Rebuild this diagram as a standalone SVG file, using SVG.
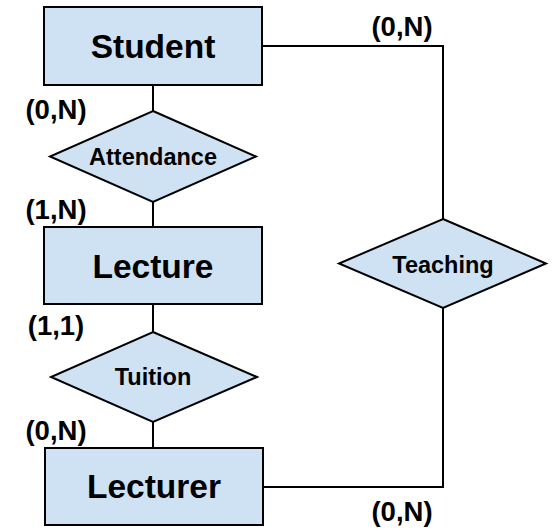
<svg xmlns="http://www.w3.org/2000/svg" width="555" height="532" viewBox="0 0 555 532">
<style>
.ent{fill:#cfe2f3;stroke:#000;stroke-width:2}
.rel{fill:#cfe2f3;stroke:#000;stroke-width:2}
.conn{fill:none;stroke:#000;stroke-width:2}
.t1{font-family:"Liberation Sans",Arial,sans-serif;font-weight:bold;font-size:33.5px;text-anchor:middle;fill:#000}
.t2{font-family:"Liberation Sans",Arial,sans-serif;font-weight:bold;font-size:23.5px;text-anchor:middle;fill:#000}
.card{font-family:"Liberation Sans",Arial,sans-serif;font-weight:bold;font-size:27.5px;text-anchor:middle;fill:#000}
</style>
<rect width="555" height="532" fill="#fff"/>
<g id="connectors">
<line class="conn" x1="153" y1="85" x2="153" y2="111"/>
<line class="conn" x1="153" y1="202" x2="153" y2="227"/>
<line class="conn" x1="153" y1="304" x2="153" y2="332"/>
<line class="conn" x1="153" y1="422" x2="153" y2="448"/>
<polyline class="conn" points="262,46 443,46 443,219"/>
<polyline class="conn" points="443,308 443,487 263,487"/>
</g>
<g id="student"><rect class="ent" x="44" y="7" width="218" height="78"/><text class="t1" x="153" y="58">Student</text></g>
<g id="attendance"><polygon class="rel" points="153,111 256,156.5 153,202 50,156.5"/><text class="t2" x="153" y="165">Attendance</text></g>
<g id="lecture"><rect class="ent" x="44" y="227" width="218" height="77"/><text class="t1" x="153" y="278">Lecture</text></g>
<g id="tuition"><polygon class="rel" points="153,332 257,377 153,422 51,377"/><text class="t2" x="153" y="385">Tuition</text></g>
<g id="lecturer"><rect class="ent" x="45" y="448" width="218" height="77"/><text class="t1" x="154" y="498">Lecturer</text></g>
<g id="teaching"><polygon class="rel" points="443,219 546,263.5 443,308 339,263.5"/><text class="t2" x="443" y="273">Teaching</text></g>
<g id="cardinalities">
<text class="card" x="56" y="119">(0,N)</text>
<text class="card" x="56" y="219">(1,N)</text>
<text class="card" x="56" y="335">(1,1)</text>
<text class="card" x="56" y="440">(0,N)</text>
<text class="card" x="402" y="36">(0,N)</text>
<text class="card" x="402" y="521">(0,N)</text>
</g>
</svg>
